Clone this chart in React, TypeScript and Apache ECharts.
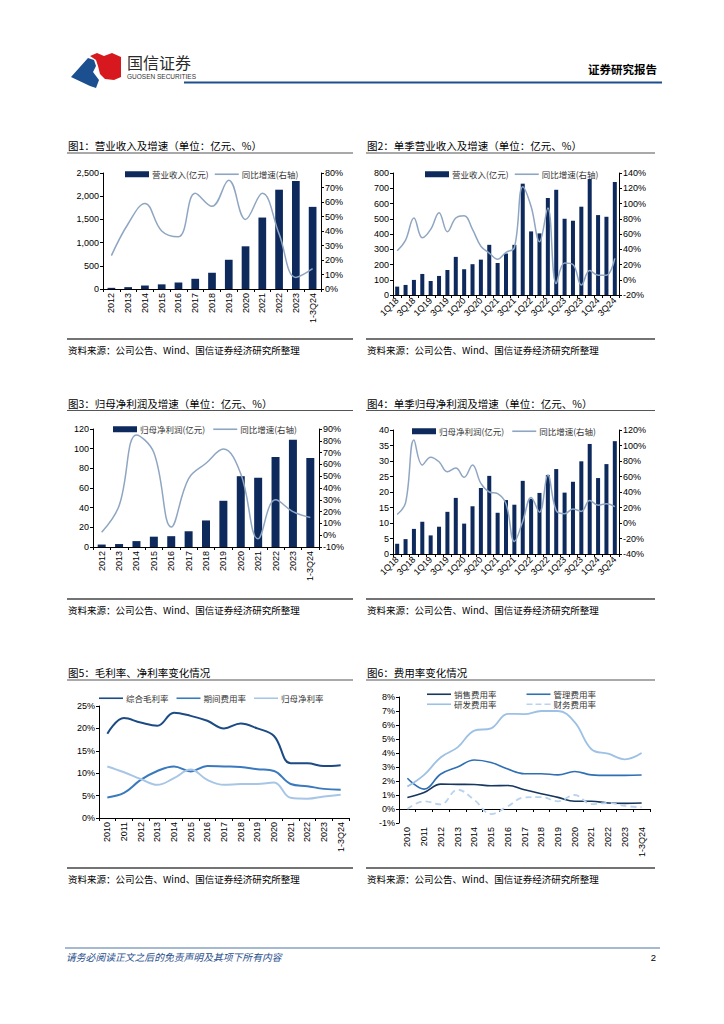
import React, { useEffect, useRef } from "react";
import * as echarts from "echarts";

// ---------- data ----------
const yearsA = ["2012", "2013", "2014", "2015", "2016", "2017", "2018", "2019", "2020", "2021", "2022", "2023", "1-3Q24"];
const revenue = [25, 40, 75, 100, 140, 220, 350, 630, 920, 1540, 2140, 2330, 1770];
const revenueYoY = [23, 45, 59, 40, 36, 66, 57, 75, 48, 66, 38, 8, 14];

const quarters = [
  "1Q18", "2Q18", "3Q18", "4Q18", "1Q19", "2Q19", "3Q19", "4Q19",
  "1Q20", "2Q20", "3Q20", "4Q20", "1Q21", "2Q21", "3Q21", "4Q21",
  "1Q22", "2Q22", "3Q22", "4Q22", "1Q23", "2Q23", "3Q23", "4Q23",
  "1Q24", "2Q24", "3Q24",
];
const qRevenue = [55, 66, 99, 138, 92, 125, 164, 250, 169, 202, 232, 329, 210, 272, 329, 730, 417, 404, 636, 690, 500, 487, 579, 761, 524, 513, 741];
const qRevenueYoY = [38, 52, 81, 55, 66, 88, 63, 81, 84, 66, 44, 35, 27, 36, 42, 122, 96, 50, 94, -5, 22, 20, -7, 12, 6, 6, 28];

const netProfit = [2.5, 3, 6, 10.5, 11, 16, 27, 47, 72, 70.5, 91.5, 109, 90.5];
const netProfitYoY = [2.5, 25, 85, 70, 7, 48, 61, 73, 52, -3, 30, 20, 15];

const qNetProfit = [3.3, 4.8, 8.1, 10.4, 6.0, 8.8, 13.6, 18.1, 9.8, 15.4, 21.3, 25.2, 13.3, 17.4, 15.9, 23.6, 17.8, 19.7, 25.5, 27.4, 19.8, 23.3, 29.9, 35.5, 24.5, 29.0, 36.4];
const qNetProfitYoY = [11, 26, 107, 75, 85, 79, 66, 71, 59, 75, 51, 40, 38, 25, -24, 2, 33, 14, 62, 16, 12, 18, 15, 29, 23, 25, 21];

const yearsB = ["2010", "2011", "2012", "2013", "2014", "2015", "2016", "2017", "2018", "2019", "2020", "2021", "2022", "2023", "1-3Q24"];
const grossMargin = [18.8, 22.3, 21.3, 20.6, 23.5, 22.8, 21.7, 20.0, 21.1, 20.0, 18.3, 12.2, 12.2, 11.6, 11.8];
const periodExpenseRate = [4.6, 5.6, 8.5, 10.5, 11.5, 10.4, 11.6, 11.5, 11.4, 10.9, 10.5, 7.6, 7.1, 6.5, 6.3];
const netMargin = [11.5, 10.2, 8.7, 7.4, 8.9, 10.8, 8.5, 7.4, 7.6, 7.6, 7.9, 4.5, 4.3, 4.8, 5.2];

const sellingRate = [0.82, 1.18, 1.78, 1.76, 1.75, 1.66, 1.68, 1.37, 1.09, 0.83, 0.55, 0.55, 0.43, 0.4, 0.43];
const adminRate = [2.2, 1.42, 2.5, 3.0, 3.5, 3.32, 2.85, 2.52, 2.52, 2.44, 2.68, 2.44, 2.4, 2.4, 2.43];
const rdRate = [1.6, 2.44, 3.7, 4.4, 5.6, 5.76, 6.8, 6.78, 7.0, 7.0, 6.2, 4.27, 3.95, 3.55, 4.0];
const financeRate = [0.0, 0.55, 0.33, 1.38, 0.65, -0.36, 0.2, 0.83, 0.85, 0.55, 1.0, 0.35, 0.43, 0.22, 0.12];

const titles = [
  "图1：营业收入及增速（单位：亿元、%）",
  "图2：单季营业收入及增速（单位：亿元、%）",
  "图3：归母净利润及增速（单位：亿元、%）",
  "图4：单季归母净利润及增速（单位：亿元、%）",
  "图5：毛利率、净利率变化情况",
  "图6：费用率变化情况",
];
const sourceText = "资料来源：公司公告、Wind、国信证券经济研究所整理";
const disclaimer = "请务必阅读正文之后的免责声明及其项下所有内容";

// ---------- styles ----------
const FONT_CN = '"Noto Sans CJK SC", "Noto Sans", sans-serif';
const FONT_NUM = '"Liberation Sans", Arial, sans-serif';
const NAVY = "#0e2a5c";
const YOY = "#8fa6c2";
const LINE_ICON = "path://M0 0H24V1.6H0Z";
const DASH_ICON = "path://M0 0H6V1.6H0Z M9 0H15V1.6H9Z M18 0H24V1.6H18Z";

function txt(x: number, y: number, text: string, size: number, o: any = {}) {
  const align = o.align || "left";
  return {
    type: "text",
    x,
    y,
    silent: true,
    style: {
      text,
      fontSize: size,
      fontFamily: o.font || FONT_CN,
      fontWeight: o.weight || "normal",
      fontStyle: o.italic ? "italic" : "normal",
      fill: o.color || "#000",
      lineHeight: o.lineHeight || undefined,
      align,
      textAlign: align,
      verticalAlign: "middle",
      textVerticalAlign: "middle",
    },
  };
}
function hline(x1: number, x2: number, y: number, color: string, w: number) {
  return { type: "line", silent: true, shape: { x1, y1: y, x2, y2: y }, style: { stroke: color, lineWidth: w } };
}

function catAxis(gridIndex: number, data: string[], rotate: number, labelInterval = 0, extra: any = {}) {
  return {
    type: "category",
    gridIndex,
    data,
    boundaryGap: true,
    axisLine: { show: true, onZero: false, lineStyle: { color: "#000", width: 1 } },
    axisTick: { show: true, length: 3, interval: 0, lineStyle: { color: "#000" } },
    axisLabel: { rotate, interval: labelInterval, fontSize: 9, color: "#000", fontFamily: FONT_NUM, margin: 4 },
    ...extra,
  };
}
function valAxis(gridIndex: number, position: string, min: number, max: number, interval: number, fmt: any) {
  return {
    type: "value",
    gridIndex,
    position,
    min,
    max,
    interval,
    splitLine: { show: false },
    axisLine: { show: true, onZero: false, lineStyle: { color: "#000", width: 1 } },
    axisTick: { show: true, length: 3, lineStyle: { color: "#000" } },
    axisLabel: { fontSize: 9, color: "#000", fontFamily: FONT_NUM, margin: 4, formatter: fmt },
  };
}
const pct = (v: number) => `${v}%`;
const comma = (v: number) => v.toLocaleString("en-US");

function legendCfg(left: number, top: number, data: any[], gap: number) {
  return {
    left,
    top,
    padding: 0,
    itemGap: gap,
    itemWidth: 24,
    itemHeight: 6,
    data,
    selectedMode: false,
    symbolKeepAspect: true,
    itemStyle: { borderWidth: 0 },
    lineStyle: { width: 0 },
    textStyle: { fontSize: 8.5, color: "#333", fontFamily: FONT_CN, padding: [0, 0, 0, -2] },
  };
}

function buildOption(): any {
  const graphic: any[] = [];
  // header logo
  graphic.push({
    type: "polygon",
    silent: true,
    shape: { points: [[71, 77], [88, 58], [94, 60], [96, 66], [93, 72], [99, 80], [96, 88], [90, 86]] },
    style: { fill: "#1b4f8f" },
  });
  graphic.push({
    type: "polygon",
    silent: true,
    shape: { points: [[90, 56], [97, 53], [104, 56], [112, 53], [121, 57], [121, 77], [114, 80], [105, 79], [100, 74], [98, 66], [96, 60]] },
    style: { fill: "#d7191f" },
  });
  graphic.push(txt(127, 62, "国信证券", 16, { color: "#2b2b2b", lineHeight: 16 }));
  graphic.push(txt(127, 76.5, "GUOSEN SECURITIES", 6.5, { font: FONT_NUM, color: "#333", lineHeight: 7 }));
  graphic.push(hline(184, 662, 82.5, "#1f4e8c", 2));
  graphic.push(txt(657, 69, "证券研究报告", 11.5, { align: "right", weight: "bold" }));

  // titles and source texts
  const cols = [
    { x1: 67, x2: 353 },
    { x1: 366, x2: 655 },
  ];
  const rows = [
    { title: 145, tline: 153, src: 339, stext: 350 },
    { title: 403, tline: 410.5, src: 599, stext: 610 },
    { title: 672, tline: 680, src: 868, stext: 879 },
  ];
  for (let r = 0; r < 3; r++) {
    for (let c = 0; c < 2; c++) {
      const row = rows[r];
      const col = cols[c];
      graphic.push(txt(col.x1 + 1, row.title, titles[r * 2 + c], 10.5));
      graphic.push(hline(col.x1, col.x2, row.tline, "#555", 1.2));
      graphic.push(hline(col.x1, col.x2, row.src, "#444", 1.5));
      graphic.push(txt(col.x1 + 1, row.stext, sourceText, 9.5));
    }
  }
  // footer
  graphic.push(hline(65, 660, 948, "#4a72a0", 1));
  graphic.push(txt(66, 957, disclaimer, 9.8, { italic: true, color: "#1f4e8c" }));
  graphic.push(txt(656, 957, "2", 9.5, { align: "right", font: FONT_NUM }));

  const grid = [
    { left: 103, top: 173, width: 218, height: 116 },
    { left: 393, top: 173, width: 226, height: 122 },
    { left: 93, top: 429, width: 226, height: 118 },
    { left: 393, top: 430, width: 226, height: 124 },
    { left: 99, top: 706, width: 250, height: 112 },
    { left: 399, top: 697, width: 251, height: 126 },
  ];

  const xAxis = [
    catAxis(0, yearsA, 90),
    catAxis(1, quarters, 45, 1),
    catAxis(2, yearsA, 90),
    catAxis(3, quarters, 45, 1),
    catAxis(4, yearsB, 90),
    catAxis(5, yearsB, 90, 0, { axisLine: { show: false, onZero: false }, axisTick: { show: false } }),
    {
      type: "category",
      gridIndex: 5,
      data: yearsB,
      position: "bottom",
      axisLine: { show: true, onZero: true, lineStyle: { color: "#000", width: 1 } },
      axisTick: { show: true, length: 3, interval: 0, lineStyle: { color: "#000" } },
      axisLabel: { show: false },
    },
  ];

  const yAxis = [
    valAxis(0, "left", 0, 2500, 500, comma),
    valAxis(0, "right", 0, 80, 10, pct),
    valAxis(1, "left", 0, 800, 100, comma),
    valAxis(1, "right", -20, 140, 20, pct),
    valAxis(2, "left", 0, 120, 20, comma),
    valAxis(2, "right", -10, 90, 10, pct),
    valAxis(3, "left", 0, 40, 5, comma),
    valAxis(3, "right", -40, 120, 20, pct),
    valAxis(4, "left", 0, 25, 5, pct),
    valAxis(5, "left", -1, 8, 1, pct),
  ];

  const bar = (name: string, xi: number, yi: number, data: number[], w: string) => ({
    name,
    type: "bar",
    xAxisIndex: xi,
    yAxisIndex: yi,
    data,
    barWidth: w,
    itemStyle: { color: NAVY },
    z: 2,
  });
  const line = (name: string, xi: number, yi: number, data: number[], color: string, width: number, dashed = false) => ({
    name,
    type: "line",
    xAxisIndex: xi,
    yAxisIndex: yi,
    data,
    smooth: 0.4,
    symbol: "none",
    lineStyle: { color, width, type: dashed ? [6, 4] : "solid" },
    itemStyle: { color },
    z: 3,
  });

  const series = [
    bar("营业收入(亿元)", 0, 0, revenue, "46%"),
    line("同比增速(右轴)", 0, 1, revenueYoY, YOY, 1.5),
    bar("营业收入(亿元)", 1, 2, qRevenue, "48%"),
    line("同比增速(右轴)", 1, 3, qRevenueYoY, YOY, 1.5),
    bar("归母净利润(亿元)", 2, 4, netProfit, "46%"),
    line("同比增速(右轴)", 2, 5, netProfitYoY, YOY, 1.5),
    bar("归母净利润(亿元)", 3, 6, qNetProfit, "48%"),
    line("同比增速(右轴)", 3, 7, qNetProfitYoY, YOY, 1.5),
    line("综合毛利率", 4, 8, grossMargin, "#1c4a84", 2),
    line("期间费用率", 4, 8, periodExpenseRate, "#3a79bd", 2),
    line("归母净利率", 4, 8, netMargin, "#a7c6e6", 2),
    line("销售费用率", 5, 9, sellingRate, "#17375e", 1.6),
    line("管理费用率", 5, 9, adminRate, "#2f6fb4", 1.6),
    line("研发费用率", 5, 9, rdRate, "#9cc1e5", 1.8),
    line("财务费用率", 5, 9, financeRate, "#b9d3ee", 1.8, true),
  ];

  const legend = [
    legendCfg(125, 170, [{ name: "营业收入(亿元)", icon: "rect" }, { name: "同比增速(右轴)", icon: LINE_ICON }], 6),
    legendCfg(425, 170, [{ name: "营业收入(亿元)", icon: "rect" }, { name: "同比增速(右轴)", icon: LINE_ICON }], 6),
    legendCfg(113, 425, [{ name: "归母净利润(亿元)", icon: "rect" }, { name: "同比增速(右轴)", icon: LINE_ICON }], 8),
    legendCfg(412, 427, [{ name: "归母净利润(亿元)", icon: "rect" }, { name: "同比增速(右轴)", icon: LINE_ICON }], 8),
    legendCfg(99, 694, [{ name: "综合毛利率", icon: LINE_ICON }, { name: "期间费用率", icon: LINE_ICON }, { name: "归母净利率", icon: LINE_ICON }], 8),
    legendCfg(427, 690, [{ name: "销售费用率", icon: LINE_ICON }, { name: "管理费用率", icon: LINE_ICON }], 30),
    legendCfg(427, 700, [{ name: "研发费用率", icon: LINE_ICON }, { name: "财务费用率", icon: DASH_ICON }], 30),
  ];

  return {
    animation: false,
    backgroundColor: "#fff",
    textStyle: { fontFamily: FONT_CN },
    grid,
    xAxis,
    yAxis,
    series,
    legend,
    graphic,
  };
}

export default function App() {
  const ref = useRef<HTMLDivElement>(null);
  useEffect(() => {
    if (!ref.current) return;
    const chart = echarts.init(ref.current, null, { renderer: "svg", width: 724, height: 1024 });
    chart.setOption(buildOption());
    return () => chart.dispose();
  }, []);
  return (
    <div
      ref={ref}
      style={{ position: "absolute", left: 0, top: 0, width: 724, height: 1024, background: "#fff" }}
    />
  );
}
